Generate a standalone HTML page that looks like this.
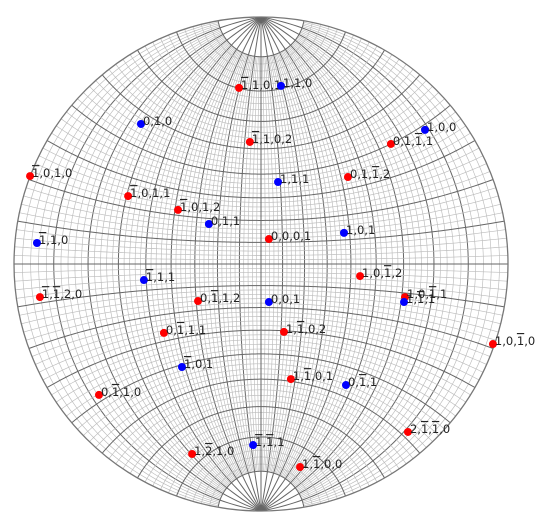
<!DOCTYPE html>
<html><head><meta charset="utf-8"><style>
html,body{margin:0;padding:0;background:#fff;}
svg{display:block;}
text{font-family:"DejaVu Sans","Liberation Sans",sans-serif;font-size:11.5px;fill:#222;}
</style></head><body>
<svg id="chart" width="541" height="514" viewBox="0 0 541 514" xmlns="http://www.w3.org/2000/svg">
<g id="grid"></g>
<g id="pts"></g>
</svg>
<script>
// Projected coordinates (stereographic, unit = 1/100 of net radius)
const labels = ["-1,1,0,1","1,1,0","0,1,0","-1,1,0,2","1,0,0","0,1,-1,1","-1,0,1,0","0,1,-1,2","1,1,1","-1,0,1,1","-1,0,1,2","0,1,1","0,0,0,1","1,0,1","-1,1,0","-1,1,1","1,0,-1,2","-1,-1,2,0","0,-1,1,2","0,0,1","1,0,-1,1","1,-1,1","0,-1,1,1","1,-1,0,2","-1,0,1","1,0,-1,0","1,-1,0,1","0,-1,1","0,-1,1,0","2,-1,-1,0","-1,-1,1","1,-2,1,0","1,-1,0,0"];
const uVals = [-8.9,8.1,-48.6,-4.5,66.4,52.6,-93.5,35.2,6.9,-53.8,-33.6,-21.1,3.2,33.6,-90.7,-47.4,40.1,-89.5,-25.5,3.2,58.3,57.9,-39.3,9.3,-32.0,93.9,12.1,34.4,-65.6,59.5,-3.2,-27.9,15.8];
const vVals = [71.3,72.1,56.7,49.4,54.3,48.6,35.6,35.2,33.2,27.5,21.9,16.2,10.1,12.6,8.5,-6.5,-4.9,-13.4,-15.0,-15.4,-13.4,-15.4,-27.9,-27.5,-41.7,-32.4,-46.6,-49.0,-53.0,-68.0,-73.3,-76.9,-82.2];
const kinds = ["r","b","b","r","b","r","r","r","b","r","r","b","r","b","b","b","r","r","r","b","r","b","r","r","b","r","r","b","r","r","b","r","r"];

const CX=261, CY=264, R=247;
const NS="http://www.w3.org/2000/svg";
function sx(u){return CX+u/100*R;}
function sy(v){return CY-v/100*R;}
function proj(lat,lon){
  const p=lat*Math.PI/180,l=lon*Math.PI/180;
  const d=1+Math.cos(p)*Math.cos(l);
  return [CX+R*Math.cos(p)*Math.sin(l)/d, CY-R*Math.sin(p)/d];
}
const grid=document.getElementById('grid');
function line(ptsArr,major,name){
  const pl=document.createElementNS(NS,'polyline');
  pl.setAttribute('points',ptsArr.map(p=>p[0].toFixed(2)+','+p[1].toFixed(2)).join(' '));
  pl.setAttribute('fill','none');
  pl.setAttribute('stroke',major?'#666':'#bcbcbc');
  pl.setAttribute('stroke-width',major?'1':'0.65');
  
  
  grid.appendChild(pl);
}
for(let lon=-88;lon<=88;lon+=2){
  const major=lon%10===0;
  const lim=major?90:80;
  const a=[];
  for(let lat=-lim;lat<=lim;lat+=1)a.push(proj(lat,lon));
  line(a,major,'meridian');
}
for(let lat=-88;lat<=88;lat+=2){
  if(lat===0)continue;
  const major=lat%10===0;
  if(!major&&Math.abs(lat)>80)continue;
  const a=[];
  for(let lon=-90;lon<=90;lon+=1)a.push(proj(lat,lon));
  line(a,major,'parallel');
}
line([[CX-R,CY],[CX+R,CY]],true,'equator');
line([[CX,CY-R],[CX,CY+R]],true,'central-meridian');
const c=document.createElementNS(NS,'circle');
c.setAttribute('cx',CX);c.setAttribute('cy',CY);c.setAttribute('r',R);
c.setAttribute('fill','none');c.setAttribute('stroke','#777');c.setAttribute('stroke-width','1.3');


grid.appendChild(c);

const pts=document.getElementById('pts');
for(let i=0;i<labels.length;i++){
  const x=sx(uVals[i]),y=sy(vVals[i]);
  const dot=document.createElementNS(NS,'circle');
  dot.setAttribute('cx',x);dot.setAttribute('cy',y);dot.setAttribute('r',4);
  dot.setAttribute('fill',kinds[i]==='r'?'#ff0000':'#0000ff');
  
  
  pts.appendChild(dot);
  const t=document.createElementNS(NS,'text');
  t.setAttribute('x',x+2);t.setAttribute('y',y+1);
  
  
  const parts=labels[i].split(',');
  parts.forEach((p,j)=>{
    const ts=document.createElementNS(NS,'tspan');
    const neg=p[0]==='-';
    ts.textContent=neg?p.slice(1):p;
    if(neg)ts.setAttribute('text-decoration','overline');
    t.appendChild(ts);
    if(j<parts.length-1){const cm=document.createElementNS(NS,'tspan');cm.textContent=',';t.appendChild(cm);}
  });
  pts.appendChild(t);
}
</script>
</body></html>
